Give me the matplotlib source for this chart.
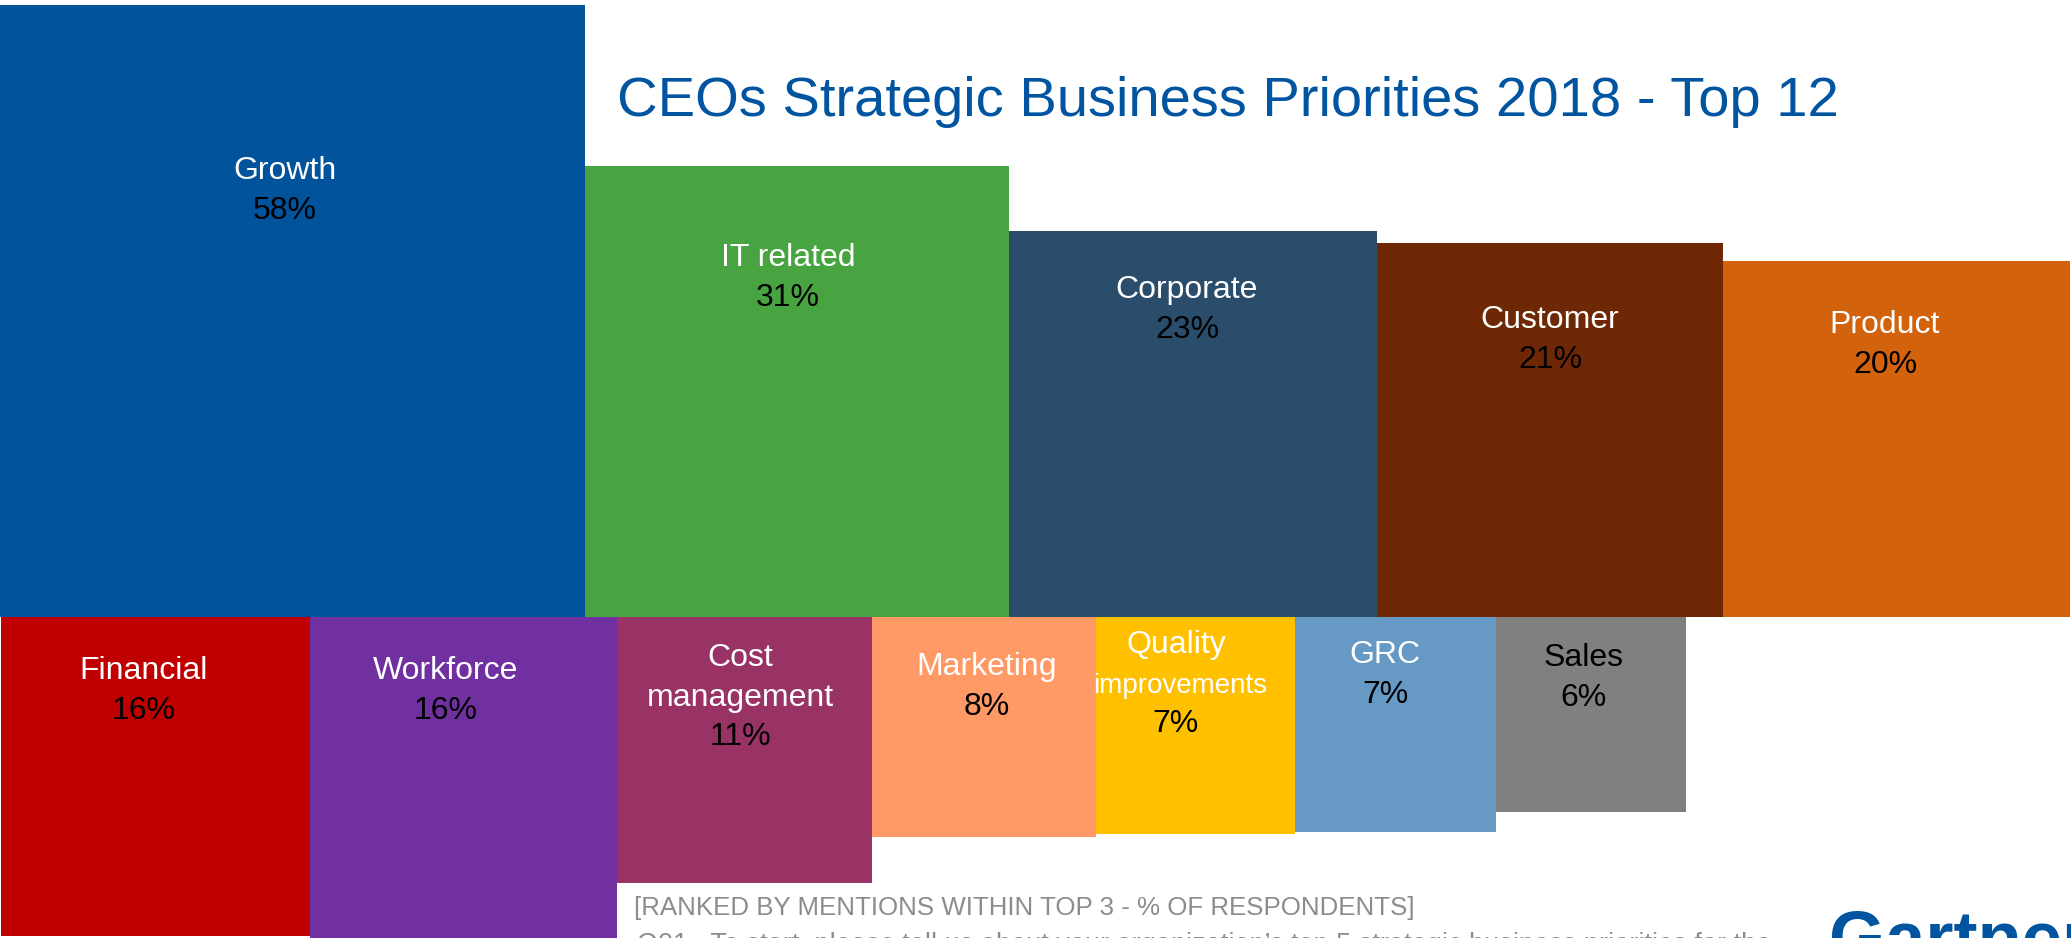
import matplotlib
matplotlib.use("Agg")
import matplotlib.pyplot as plt

plt.rcParams['font.family'] = ['Liberation Sans', 'DejaVu Sans']

# ---- data -------------------------------------------------------------
top_categories = ["Growth", "IT related", "Corporate", "Customer", "Product"]
top_values = [58, 31, 23, 21, 20]
top_colors = ["#01539C", "#48A441", "#2A4D6C", "#6F2806", "#D2620B"]

bottom_categories = ["Financial", "Workforce", "Cost\nmanagement", "Marketing",
                     "Quality\nimprovements", "GRC", "Sales"]
bottom_values = [16, 16, 11, 8, 7, 7, 6]
bottom_colors = ["#C00000", "#7030A0", "#993366", "#FF9966",
                 "#FFC000", "#6699C4", "#808080"]

title = "CEOs Strategic Business Priorities 2018 - Top 12"
note = "[RANKED BY MENTIONS WITHIN TOP 3 - % OF RESPONDENTS]"
question = ("Q01.  To start, please tell us about your organization\u2019s top 5 "
            "strategic business priorities for the")

# ---- layout (pixels) ----------------------------------------------------
W, H = 2071, 938
BASE = 617            # shared edge between the two rows
AREA_PER_PCT = 6170   # px^2 per percentage point
top_widths = [585, 424, 368, 346, 347]
bottom_widths = [309, 307, 255, 224, 199, 201, 190]
bottom_start = 1

top_label_x = [285, 788, 1187, 1550, 1885]
top_label_y = [179, 266, 298, 328, 333]
bottom_label_x = [144, 446, 740, 987, 1176, 1385, 1584]
bottom_label_y = [679, 679, 666, 675, 653, 663, 666]
bottom_name_colors = ["white"] * 6 + ["black"]
LINE = 40

fig = plt.figure(figsize=(W / 100, H / 100), dpi=100)
ax = fig.add_axes([0, 0, 1, 1])
ax.set_xlim(0, W)
ax.set_ylim(H, 0)
ax.axis("off")

LABEL_FS = 23

# top row: boxes hang upward from the shared edge
x = 0
for cat, val, col, w, lx, ly in zip(top_categories, top_values, top_colors,
                                    top_widths, top_label_x, top_label_y):
    h = val * AREA_PER_PCT / w
    ax.bar(x, h, width=w, bottom=BASE - h, align="edge", color=col,
           edgecolor="none", linewidth=0)
    ax.text(lx, ly, cat, color="white", fontsize=LABEL_FS, ha="center", va="baseline")
    ax.text(lx, ly + LINE, f"{val}%", color="black", fontsize=LABEL_FS,
            ha="center", va="baseline")
    x += w

# bottom row: boxes hang downward from the shared edge
x = bottom_start
for cat, val, col, w, lx, ly, nc in zip(bottom_categories, bottom_values,
                                        bottom_colors, bottom_widths,
                                        bottom_label_x, bottom_label_y,
                                        bottom_name_colors):
    h = val * AREA_PER_PCT / w
    ax.bar(x, h, width=w, bottom=BASE, align="edge", color=col,
           edgecolor="none", linewidth=0)
    lines = cat.split("\n")
    y = ly
    for i, line in enumerate(lines):
        fs = 20 if line == "improvements" else LABEL_FS
        ax.text(lx + (4 if line == "improvements" else 0), y, line, color=nc,
                fontsize=fs, ha="center", va="baseline")
        y += LINE if i < len(lines) - 1 else 0
    y_pct = y + LINE - (1 if len(lines) > 1 else 0)
    ax.text(lx, y_pct, f"{val}%", color="black", fontsize=LABEL_FS,
            ha="center", va="baseline")
    x += w

# title, notes and logo
ax.text(617, 116, title, color="#0054A0", fontsize=40.4, ha="left", va="baseline")
ax.text(634, 915, note, color="#8C8C8C", fontsize=18.6, ha="left", va="baseline")
ax.text(637, 952, question, color="#8C8C8C", fontsize=19.5, ha="left", va="baseline")
ax.text(1829, 962, "Gartner", color="#0054A0", fontsize=52, fontweight="bold",
        ha="left", va="baseline")

fig.savefig("out.png", dpi=100)
